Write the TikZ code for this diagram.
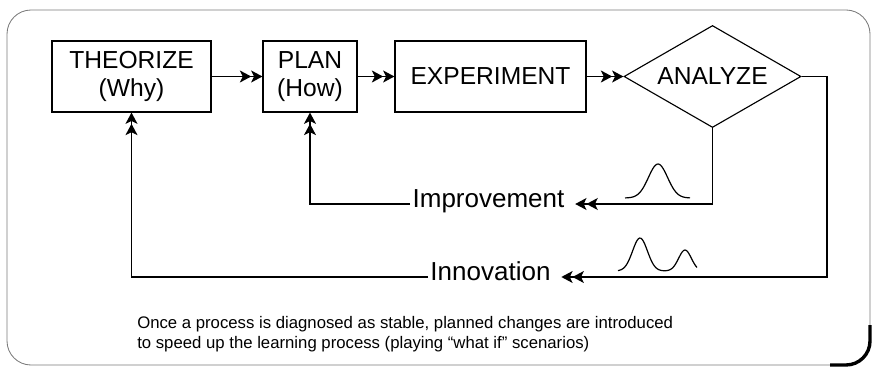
\documentclass[tikz,border=0pt]{standalone}
\usepackage{fontspec}
\setmainfont{Liberation Sans}
\usetikzlibrary{arrows.meta,shapes.geometric}
\definecolor{frame}{HTML}{7A7A7A}

\begin{document}
\begin{tikzpicture}[x=0.025cm,y=-0.025cm,
    stage/.style={draw,line width=0.8pt,align=center,inner sep=0pt,
      minimum height=1.775cm,font=\fontsize{17.5}{20.5}\selectfont},
    dec/.style={draw,diamond,aspect=1.74,line width=0.8pt,inner sep=0pt,
      minimum width=4.425cm,minimum height=2.55cm,font=\fontsize{17.5}{20.5}\selectfont},
    lbl/.style={anchor=mid,inner xsep=1.5pt,font=\fontsize{18.5}{20}\selectfont},
    flow/.style={line width=0.85pt,
      -{Stealth[length=8pt,width=8.5pt,inset=2pt]Stealth[length=8pt,width=8.5pt,inset=2pt]}},
    back/.style={flow,shorten >=6pt},
    wire/.style={line width=0.85pt}]
  \useasboundingbox (0,0) rectangle (872,367);

  % frame, with the heavy corner at the bottom right
  \draw[frame,line width=0.6pt,rounded corners=0.6cm] (7,10) rectangle (870,365);
  \draw[line width=2.4pt,rounded corners=0.6cm] (870,325) -- (870,365) -- (830,365);

  \path
  (131.5,76.5) node[stage,minimum width=3.975cm](theo) {THEORIZE\\(Why)}
  (310,76.5) node[stage,minimum width=2.35cm](plan) {PLAN\\(How)}
  (490.5,76.5) node[stage,minimum width=4.775cm](exp) {EXPERIMENT}
  (712.5,76.5) node[dec](ana) {ANALYZE}
  (488.5,204) node[lbl](imp) {Improvement}
  (490.5,277) node[lbl](inn) {Innovation}
  ;
  \coordinate (cr) at (827,277);

  \draw[flow] (theo) to (plan);
  \draw[flow] (plan) to (exp);
  \draw[flow] (exp) to (ana);

  \draw[back] (ana.south) |- (imp.mid east);
  \draw[flow] (imp.mid west) -| (plan.south);

  \draw[back] (ana.east) -| (cr) -- (inn.mid east);
  \draw[flow] (inn.mid west) -| (theo.south);

  % one hump, then two
  \draw[wire,domain=625:690,samples=50]
    plot (\x,{198-34*exp(-((\x-658)/13.5)^2)});
  \draw[wire,domain=618:697,samples=60]
    plot (\x,{271-33*exp(-((\x-640)/10.5)^2)-21*exp(-((\x-685)/9)^2)});

  \path (137,316) node[anchor=north west,align=left,inner sep=0pt,
    font=\fontsize{11.9}{14.5}\selectfont](note)
    {Once a process is diagnosed as stable, planned changes are introduced\\
     to speed up the learning process (playing ``what if'' scenarios)};
\end{tikzpicture}
\end{document}
